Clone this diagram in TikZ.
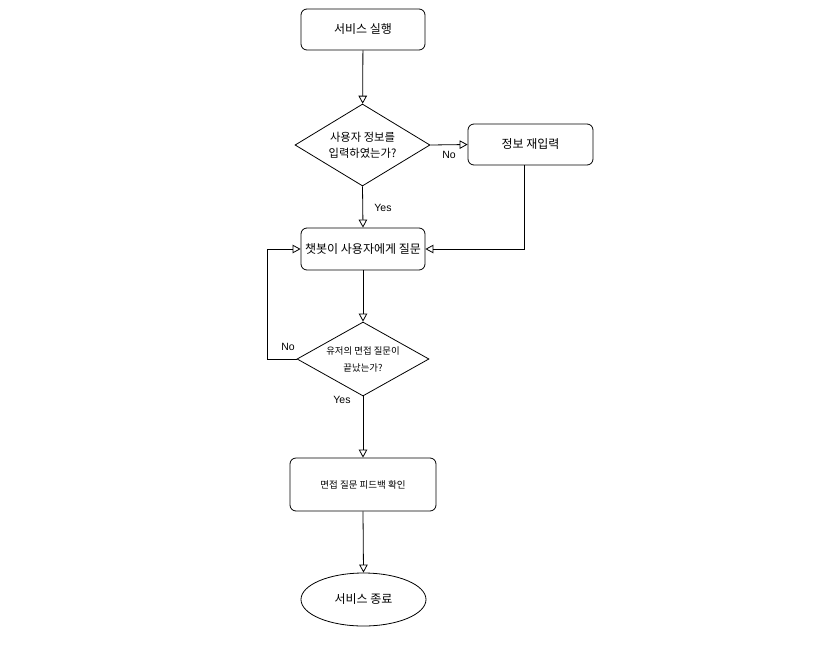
\documentclass[tikz,border=0pt]{standalone}
\usepackage{fontspec}
\setmainfont{Liberation Sans}
\newfontfamily\kr{Noto Sans CJK KR}
\usetikzlibrary{shapes.geometric,arrows.meta,calc}
\begin{document}
\begin{tikzpicture}[x=1pt,y=-1pt,
  box/.style={draw, rounded corners=6pt, line width=0.8pt, inner sep=0pt, align=center, font=\kr\fontsize{12}{14}\selectfont},
  dia/.style={draw, diamond, aspect=1.65, line width=0.8pt, inner sep=0pt, align=center},
  arr/.style={line width=0.8pt, -{Triangle[open,length=8pt,width=8.5pt]}},
  lbl/.style={font=\fontsize{10.5}{12}\selectfont, inner sep=0pt}
]
\useasboundingbox (0,0) rectangle (828,654);
\node[box, minimum width=124pt, minimum height=41pt] (start) at (363,29.5) {서비스 실행};
\node[dia, minimum width=135pt, minimum height=82pt, font=\kr\fontsize{11.3}{16}\selectfont] (d1) at (362.5,145) {사용자 정보를\\입력하였는가?};
\node[box, minimum width=125pt, minimum height=41pt] (re) at (530.5,144.5) {정보 재입력};
\node[box, minimum width=124pt, minimum height=42pt] (chat) at (363,249) {챗봇이 사용자에게 질문};
\node[dia, minimum width=132pt, minimum height=74pt, font=\kr\fontsize{9.4}{17}\selectfont] (d2) at (363,359) {유저의 면접 질문이\\끝났는가?};
\node[box, minimum width=146pt, minimum height=53pt, font=\kr\fontsize{9.5}{12}\selectfont] (fb) at (363,484.5) {면접 질문 피드백 확인};
\node[draw, ellipse, line width=0.8pt, minimum width=125pt, minimum height=53pt, inner sep=0pt, font=\kr\fontsize{12}{14}\selectfont] (end) at (363.5,599.5) {서비스 종료};

\draw[arr] (start) -- (d1);
\draw[arr] (d1.east) -- (re.west);
\draw[arr] (d1.south) -- (chat.north);
\draw[arr] ([xshift=-6.5pt]re.south) |- (chat.east);
\draw[arr] (chat.south) -- (d2.north);
\draw[arr] (d2.west) -- ++(-29,0) |- (chat.west);
\draw[arr] (d2.south) -- (fb.north);
\draw[arr] (fb.south) -- (end.north);

\node[lbl] (no1) at (449,155) {No};
\node[lbl] (yes1) at (383,208) {Yes};
\node[lbl] (no2) at (288,347) {No};
\node[lbl] (yes2) at (342,400) {Yes};
\end{tikzpicture}
\end{document}
